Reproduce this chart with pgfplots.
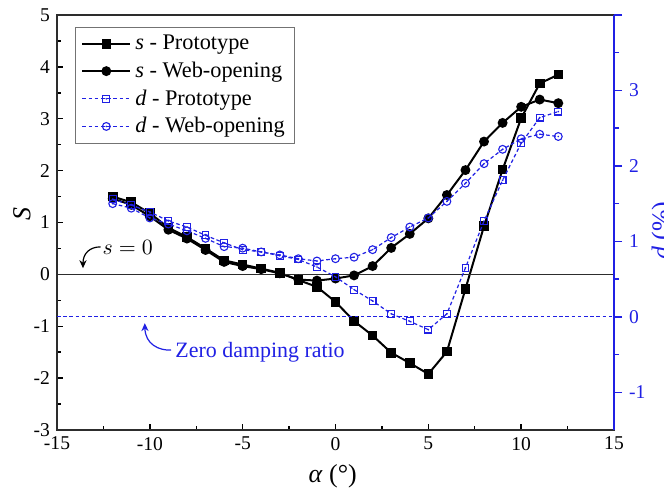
\documentclass[border=0pt]{standalone}
\usepackage{pgfplots}
\usepackage{pgfplotstable}
\pgfplotsset{compat=1.18}
\usepackage{fontspec}
\IfFontExistsTF{LiberationSerif-Regular.ttf}
  {\setmainfont{LiberationSerif}[Extension=.ttf, UprightFont=*-Regular,
     ItalicFont=*-Italic, BoldFont=*-Bold, BoldItalicFont=*-BoldItalic]}
  {\setmainfont{Liberation Serif}}
\usetikzlibrary{arrows.meta}

\definecolor{dblue}{RGB}{32,32,228}
\definecolor{framec}{RGB}{45,45,45}

% open markers with a small dot in the middle
\pgfdeclareplotmark{dotsquare}{%
  \pgfpathrectangle{\pgfqpoint{-\pgfplotmarksize}{-\pgfplotmarksize}}{\pgfqpoint{2\pgfplotmarksize}{2\pgfplotmarksize}}%
  \pgfusepathqstroke
  \pgfpathcircle{\pgfpointorigin}{0.45bp}%
  \pgfusepathqfill}
\pgfdeclareplotmark{dotcircle}{%
  \pgfpathcircle{\pgfpointorigin}{\pgfplotmarksize}%
  \pgfusepathqstroke
  \pgfpathcircle{\pgfpointorigin}{0.45bp}%
  \pgfusepathqfill}

% alpha (deg), s and d for both models
\pgfplotstableread{
x    sP     sW     dP     dW
-12  1.50   1.46   1.56   1.50
-11  1.39   1.34   1.48   1.44
-10  1.18   1.12   1.39   1.31
-9   0.90   0.86   1.27   1.23
-8   0.72   0.69   1.19   1.14
-7   0.50   0.47   1.08   1.04
-6   0.27   0.24   0.98   0.93
-5   0.19   0.16   0.89   0.91
-4   0.11   0.10   0.86   0.86
-3   0.03   0.02   0.81   0.82
-2  -0.11  -0.10   0.76   0.77
-1  -0.24  -0.12   0.66   0.74
0   -0.53  -0.08   0.53   0.77
1   -0.90  -0.02   0.36   0.79
2   -1.18   0.16   0.21   0.89
3   -1.51   0.51   0.04   1.05
4   -1.71   0.78  -0.06   1.19
5   -1.92   1.08  -0.17   1.31
6   -1.49   1.53   0.04   1.53
7   -0.28   2.01   0.65   1.77
8    0.93   2.56   1.27   2.03
9    2.02   2.92   1.81   2.22
10   3.01   3.23   2.30   2.36
11   3.68   3.37   2.64   2.42
12   3.85   3.30   2.72   2.39
}\flutter

\pgfplotsset{
  sProto/.style={black, line width=1bp, mark=square*, mark size=1.9bp, mark options={solid}},
  sWeb/.style={black, line width=1bp, mark=*, mark size=1.95bp, mark options={solid}},
  dProto/.style={dblue, line width=0.6bp, dash pattern=on 1.8bp off 1.3bp, mark=dotsquare, mark size=1.7bp,
    mark options={solid, line width=0.55bp, fill=dblue}},
  dWeb/.style={dblue, line width=0.6bp, dash pattern=on 1.8bp off 1.3bp, mark=dotcircle, mark size=1.95bp,
    mark options={solid, line width=0.55bp, fill=dblue}},
  common/.style={
    scale only axis, width=278.5bp, height=207.5bp,
    xmin=-15, xmax=15,
    /pgf/number format/assume math mode=true,
    ticklabel style={font=\fontsize{9.8}{10}\selectfont},
    label style={font=\fontsize{13}{14}\selectfont},
  },
}

\begin{document}
\begin{tikzpicture}
\begin{axis}[common, name=ax,
  ymin=-3, ymax=5,
  xtick={-15,-10,...,15}, ytick={-3,-2,...,5},
  minor x tick num=1, minor y tick num=1,
  xtick pos=bottom, ytick pos=left,
  tick align=inside,
  major tick length=3bp, minor tick length=2bp,
  tick style={black, line width=0.7bp},
  axis line style={framec, line width=0.8bp},
  xlabel={\textit{α} (°)},
  xlabel style={at={(axis description cs:0.495,-0.1277)}, anchor=base, inner sep=0pt},
  ylabel={\textit{S}},
  ylabel style={at={(axis description cs:-0.0467,0.52)}, anchor=south, rotate=0, inner sep=0pt},
]
  \addplot[sProto] table[x=x, y=sP] {\flutter};
  \addplot[sWeb] table[x=x, y=sW] {\flutter};
  % reference line s = 0
  \addplot[framec, line width=0.7bp, no marks] coordinates {(-15,0) (15,0)};

  \node[anchor=west, inner sep=0pt, font=\fontsize{11}{12}\selectfont] at (axis cs:-12.57,0.51) {$s=0$};
  \draw[-{Stealth[length=4bp, width=3.6bp]}, black, line width=0.6bp]
    (axis cs:-12.65,0.53) .. controls (axis cs:-13.25,0.53) and (axis cs:-13.6,0.40) .. (axis cs:-13.6,0.12);

  \node[anchor=west, inner sep=0pt, text=dblue, font=\fontsize{11}{12}\selectfont] at (axis cs:-8.64,-1.495) {Zero damping ratio};
  \draw[-{Stealth[length=4bp, width=3.6bp]}, dblue, line width=0.6bp]
    (axis cs:-8.85,-1.46) .. controls (axis cs:-9.5,-1.47) and (axis cs:-10.25,-1.35) .. (axis cs:-10.27,-0.94);
\end{axis}

\begin{axis}[common,
  ymin=-1.5, ymax=4,
  axis x line=none, axis y line*=right,
  ytick={-1,0,...,4}, yticklabels={-1,0,1,2,3,},
  minor y tick num=1,
  tick align=outside,
  major tick length=4bp, minor tick length=2.5bp,
  y axis line style={dblue, line width=0.8bp},
  ytick style={dblue, line width=0.7bp},
  yticklabel style={text=dblue},
  ylabel={\textit{d} (\%)},
  ylabel style={at={(axis description cs:1.067,0.48)}, anchor=north, rotate=0, inner sep=0pt, text=dblue},
  legend cell align=left,
  legend style={at={(rel axis cs:0.032,0.971)}, anchor=north west,
    draw=black!55, line width=0.5bp, fill=white,
    font=\fontsize{11.2}{12}\selectfont,
    inner xsep=3bp, inner ysep=1.8bp, row sep=0.6bp},
  legend image code/.code={%
    \draw[mark repeat=2, mark phase=2, #1] plot coordinates {(0bp,0bp) (12bp,0bp) (24bp,0bp)};},
]
  \addlegendimage{sProto}
  \addlegendimage{sWeb}
  % zero damping ratio
  \addplot[dblue, line width=0.6bp, dash pattern=on 1.8bp off 1.3bp, no marks, forget plot] coordinates {(-15,0) (15,0)};
  \addplot[dProto] table[x=x, y=dP] {\flutter};
  \addplot[dWeb] table[x=x, y=dW] {\flutter};
  \legend{\textit{s} - Prototype, \textit{s} - Web-opening, \textit{d} - Prototype, \textit{d} - Web-opening}
\end{axis}

\pgfresetboundingbox
\path ([shift={(-28.5bp,-29bp)}]ax.south west) rectangle ([shift={(25bp,7.5bp)}]ax.north east);
\end{tikzpicture}
\end{document}
